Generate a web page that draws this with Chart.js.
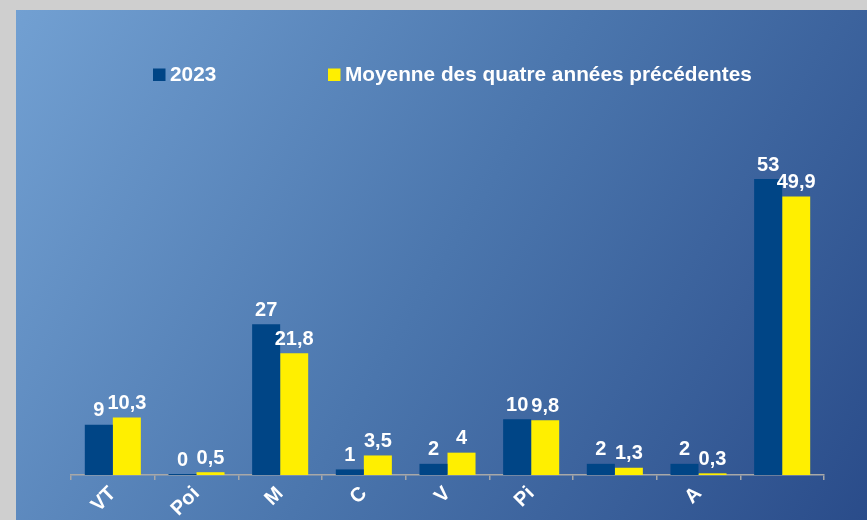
<!DOCTYPE html>
<html>
<head>
<meta charset="utf-8">
<script src="https://cdn.jsdelivr.net/npm/chart.js@4"></script>
<style>
  html, body { margin: 0; padding: 0; background: #cfcfcf; width: 867px; height: 520px; overflow: hidden; }
  #wrap { position: absolute; left: 16px; top: 10px; width: 851px; height: 510px; }
</style>
</head>
<body>
<div id="wrap"><canvas id="c" width="851" height="510"></canvas></div>
<script>
const categories = ["VT", "Poi", "M", "C", "V", "Pi", "", "A", ""];
const series2023 = [9, 0, 27, 1, 2, 10, 2, 2, 53];
const seriesAvg = [10.3, 0.5, 21.8, 3.5, 4, 9.8, 1.3, 0.3, 49.9];
const seriesNames = ["2023", "Moyenne des quatre années précédentes"];

const FONT = "'Liberation Sans', Arial, sans-serif";

const bgPlugin = {
  id: 'bg',
  beforeDraw(chart) {
    const ctx = chart.ctx;
    const w = chart.width, h = chart.height;
    const g = ctx.createLinearGradient(0, 0, w, h);
    g.addColorStop(0, '#72a0d2');
    g.addColorStop(0.5, '#4b76ad');
    g.addColorStop(1, '#2a4c8a');
    ctx.save();
    ctx.fillStyle = g;
    ctx.fillRect(0, 0, w, h);
    ctx.restore();
  }
};

const labelPlugin = {
  id: 'vals',
  afterDatasetsDraw(chart) {
    const ctx = chart.ctx;
    ctx.save();
    ctx.font = "bold 20px " + FONT;
    ctx.fillStyle = '#ffffff';
    ctx.textAlign = 'center';
    ctx.textBaseline = 'bottom';
    chart.data.datasets.forEach((ds, i) => {
      const meta = chart.getDatasetMeta(i);
      meta.data.forEach((el, j) => {
        const v = ds.data[j];
        ctx.fillText(String(v).replace('.', ','), el.x, el.y - 4);
      });
    });
    ctx.restore();
  }
};

const legendPlugin = {
  id: 'customLegend',
  afterDraw(chart) {
    const ctx = chart.ctx;
    const items = [{ x: 137 }, { x: 312 }];
    const yMid = 64.5;
    ctx.save();
    ctx.font = "bold 20.8px " + FONT;
    ctx.textBaseline = 'middle';
    ctx.textAlign = 'left';
    chart.data.datasets.forEach((ds, i) => {
      const it = items[i];
      ctx.fillStyle = ds.backgroundColor;
      ctx.fillRect(it.x, yMid - 6, 12.5, 12.5);
      ctx.fillStyle = '#ffffff';
      ctx.fillText(ds.label, it.x + 17, yMid + 1);
    });
    ctx.restore();
  }
};

new Chart(document.getElementById('c'), {
  type: 'bar',
  data: {
    labels: categories,
    datasets: [
      { label: seriesNames[0], data: series2023, backgroundColor: '#004586', minBarLength: 1 },
      { label: seriesNames[1], data: seriesAvg, backgroundColor: '#ffef00' }
    ]
  },
  options: {
    responsive: false,
    animation: false,
    events: [],
    layout: { padding: { left: 55, right: 43, top: 130, bottom: 0 } },
    plugins: {
      legend: { display: false },
      tooltip: { enabled: false },
      title: { display: false }
    },
    datasets: { bar: { categoryPercentage: 0.67, barPercentage: 1.0 } },
    scales: {
      y: {
        display: false,
        min: 0,
        max: 60
      },
      x: {
        grid: {
          display: true,
          drawOnChartArea: false,
          drawTicks: true,
          tickLength: 5,
          color: '#a8a8a8',
          lineWidth: 1.5,
          offset: true
        },
        border: { display: true, color: '#a8a8a8', width: 1.5 },
        ticks: {
          color: '#ffffff',
          font: { family: FONT, size: 20, weight: 'bold' },
          minRotation: 45,
          maxRotation: 45,
          autoSkip: false,
          padding: 2
        },
        afterFit(scale) { scale.height = 45; }
      }
    }
  },
  plugins: [bgPlugin, labelPlugin, legendPlugin]
});
</script>
</body>
</html>
